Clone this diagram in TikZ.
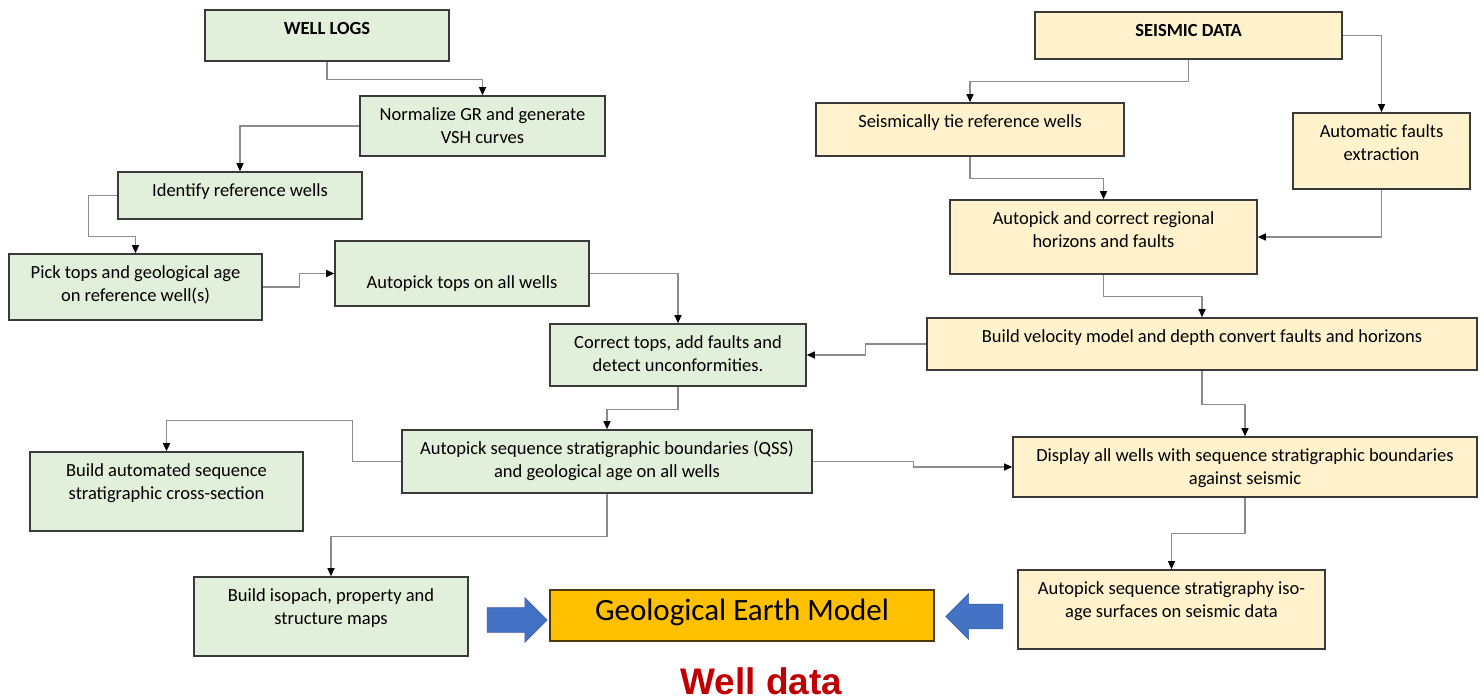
\documentclass[tikz,border=0pt]{standalone}
\usepackage{fontspec}
\setmainfont{Carlito}
\newfontfamily\arialbold{Liberation Sans}[BoldFont={* Bold}]
\usepackage{tikz}
\usetikzlibrary{calc,shapes,arrows.meta}
\definecolor{wellgreen}{HTML}{E2EFDA}
\definecolor{seisyellow}{HTML}{FFF2CC}
\definecolor{modelorange}{HTML}{FFC000}
\definecolor{arrowblue}{HTML}{4472C4}
\definecolor{datared}{HTML}{C00000}
\definecolor{linkgray}{HTML}{8C8C8C}
\definecolor{boxline}{HTML}{3A3A3A}
\tikzstyle{greenbox}=[rectangle,draw=boxline,fill=wellgreen,line width=1.6pt,
                      font=\fontsize{18.5}{23.5}\selectfont,inner sep=0pt]
\tikzstyle{yellowbox}=[greenbox,fill=seisyellow]
\tikzstyle{modelbox}=[rectangle,draw=black!70!modelorange,fill=modelorange,line width=1.6pt,
                      font=\fontsize{31}{36}\selectfont,inner sep=0pt]
\tikzstyle{link}=[draw=linkgray,line width=1.2pt,
                  -{Triangle[black,length=8pt,width=7pt]}]
\tikzstyle{bluearrow}=[single arrow,fill=arrowblue,draw=arrowblue!85!black,
                       line width=0.6pt,inner sep=0pt,single arrow head indent=0pt]
\newcommand\boxlabel[4][8pt]{\parbox[c][#3][t]{#2}{\centering\vspace*{#1}\strut #4}}
\newcommand\shaft{\vrule width 0pt height 12pt depth 12pt}

\begin{document}
\begin{tikzpicture}[x=1pt,y=-1pt]
    \useasboundingbox (0,0) rectangle (1484,700);
    % well log branch
    \node [greenbox] (WellLogs) at (327,35.5) {
        \boxlabel{244pt}{51pt}{\textbf{WELL LOGS}}
    };
    \node [greenbox] (Normalize) at (482.5,126) {
        \boxlabel{245pt}{60pt}{Normalize GR and generate \\ VSH curves}
    };
    \node [greenbox] (Identify) at (240,195.5) {
        \boxlabel{244pt}{47pt}{Identify reference wells}
    };
    \node [greenbox] (PickTops) at (135.5,287) {
        \boxlabel{253pt}{66pt}{Pick tops and geological age \\ on reference well(s)}
    };
    \node [greenbox] (AutoTops) at (462,273.5) {
        \boxlabel[31.5pt]{254pt}{65pt}{Autopick tops on all wells}
    };
    \node [greenbox] (Correct) at (678,355) {
        \boxlabel{256pt}{62pt}{Correct tops, add faults and \\ detect unconformities.}
    };
    \node [greenbox] (QSS) at (607,461.5) {
        \boxlabel{410pt}{63pt}{Autopick sequence stratigraphic boundaries (QSS) \\ and geological age on all wells}
    };
    \node [greenbox] (CrossSection) at (166.5,491.5) {
        \boxlabel{273pt}{79pt}{Build automated sequence \\ stratigraphic cross-section}
    };
    \node [greenbox] (Isopach) at (331,616.5) {
        \boxlabel{274pt}{79pt}{Build isopach, property and \\ structure maps}
    };
    % seismic branch
    \node [yellowbox] (Seismic) at (1188.5,35.5) {
        \boxlabel{307pt}{47pt}{\textbf{SEISMIC DATA}}
    };
    \node [yellowbox] (Tie) at (970,129.5) {
        \boxlabel{308pt}{53pt}{Seismically tie reference wells}
    };
    \node [yellowbox] (Faults) at (1381.5,151) {
        \boxlabel{177pt}{76pt}{Automatic faults \\ extraction}
    };
    \node [yellowbox] (Regional) at (1103.5,237) {
        \boxlabel{307pt}{74pt}{Autopick and correct regional \\ horizons and faults}
    };
    \node [yellowbox] (Velocity) at (1202,344) {
        \boxlabel{550pt}{52pt}{Build velocity model and depth convert faults and horizons}
    };
    \node [yellowbox] (Display) at (1245,467) {
        \boxlabel{464pt}{60pt}{Display all wells with sequence stratigraphic boundaries \\ against seismic}
    };
    \node [yellowbox] (IsoAge) at (1171.5,609.5) {
        \boxlabel{307pt}{79pt}{Autopick sequence stratigraphy iso- \\ age surfaces on seismic data}
    };
    % model
    \node [modelbox] (Model) at (742,615.5) {
        \boxlabel[5pt]{384pt}{51pt}{Geological Earth Model}
    };
    \node [bluearrow,minimum height=60pt,single arrow head extend=10pt]
        (ArrowIn) at (511,620) {\shaft};
    \node [bluearrow,minimum height=57pt,single arrow head extend=10.5pt,
           shape border rotate=180] (ArrowOut) at (980.5,616.5) {\shaft};
    \node [anchor=base,text=datared,font=\arialbold\bfseries\fontsize{37}{40}\selectfont]
        (Caption) at (761.5,694) {Well data};
    % connectors
    \draw [link] (WellLogs.south) -- ++(0,18) -| (Normalize.north);
    \draw [link] (Normalize.west) -| (Identify.north);
    \draw [link] (Identify.west) -- ++(-29,0) |- ($(PickTops.north)+(0,-17)$) -- (PickTops.north);
    \draw [link] (PickTops.east) -- ++(37,0) |- (AutoTops.west);
    \draw [link] (AutoTops.east) -| (Correct.north);
    \draw [link] (Correct.south) -- ++(0,23) -| (QSS.north);
    \draw [link] (QSS.west) -- ++(-49,0) |- ($(CrossSection.north)+(0,-31)$) -- (CrossSection.north);
    \draw [link] (QSS.south) -- ++(0,43) -| (Isopach.north);
    \draw [link] (QSS.east) -- ++(101,0) |- (Display.west);
    \draw [link] (Seismic.south) -- ++(0,22) -| (Tie.north);
    \draw [link] (Seismic.east) -| (Faults.north);
    \draw [link] (Tie.south) -- ++(0,22) -| (Regional.north);
    \draw [link] (Faults.south) |- (Regional.east);
    \draw [link] (Regional.south) -- ++(0,22) -| (Velocity.north);
    \draw [link] (Velocity.west) -- ++(-61,0) |- (Correct.east);
    \draw [link] (Velocity.south) -- ++(0,34) -| (Display.north);
    \draw [link] (Display.south) -- ++(0,36) -| (IsoAge.north);
\end{tikzpicture}
\end{document}
